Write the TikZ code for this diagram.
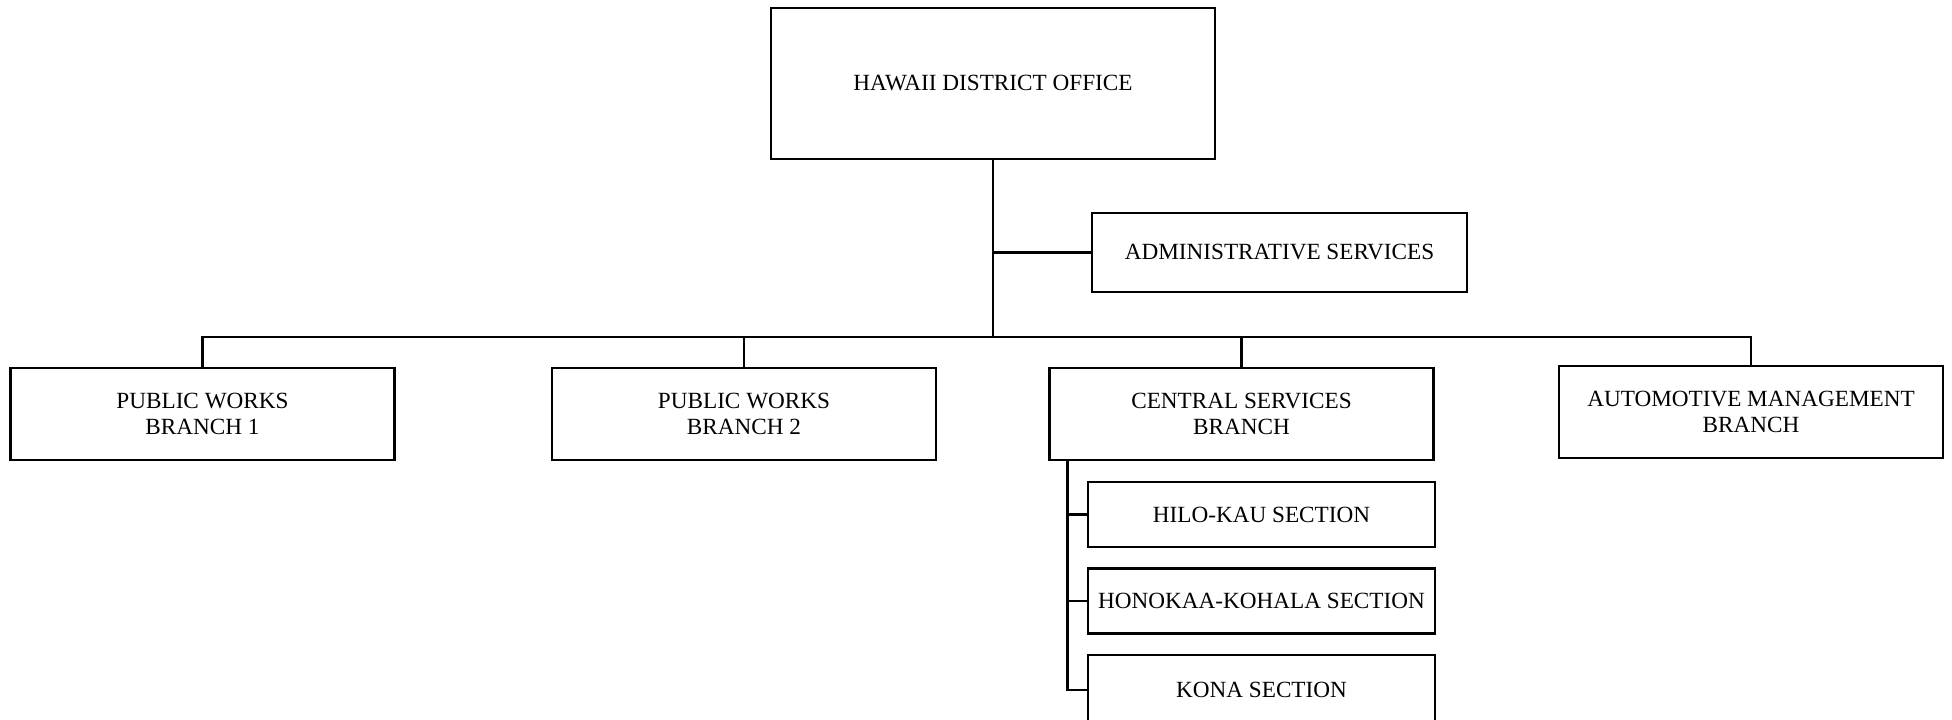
\documentclass[tikz,border=0pt]{standalone}
\usepackage{fontspec}
\setmainfont{Liberation Serif}

\begin{document}
\begin{tikzpicture}[
    box/.style={draw, line width=0.6pt, minimum width=3.84cm, minimum height=0.92cm,
                align=center, inner sep=0pt, font=\fontsize{6.6}{7.6}\selectfont},
    sectionbox/.style={box, minimum width=3.47cm, minimum height=0.65cm},
    link/.style={line width=0.6pt},
  ]
  \useasboundingbox (0,0) rectangle (19.52,-7.20);
  \node[box, minimum width=4.44cm, minimum height=1.51cm] (office) at (9.93,-0.835) {HAWAII DISTRICT OFFICE};
  \node[box, minimum width=3.75cm, minimum height=0.79cm] (admin) at (12.795,-2.525) {ADMINISTRATIVE SERVICES};
  \node[box] (pw1) at (2.025,-4.14) {PUBLIC WORKS\\ BRANCH 1};
  \node[box] (pw2) at (7.44,-4.14) {PUBLIC WORKS\\ BRANCH 2};
  \node[box] (central) at (12.415,-4.14) {CENTRAL SERVICES\\ BRANCH};
  \node[box] (auto) at (17.51,-4.12) {AUTOMOTIVE MANAGEMENT\\ BRANCH};
  \node[sectionbox] (hilo) at (12.615,-5.145) {HILO-KAU SECTION};
  \node[sectionbox] (honokaa) at (12.615,-6.01) {HONOKAA-KOHALA SECTION};
  \node[sectionbox, minimum height=0.70cm] (kona) at (12.615,-6.90) {KONA SECTION};
  \coordinate (bus) at (9.93,-3.37);
  \coordinate (csleft) at ([xshift=0.19cm]central.south west);
  \draw[link] (office) -- (bus);
  \draw[link] (admin) -- (admin -| bus);
  \draw[link] (bus) -| (pw1);
  \draw[link] (bus) -| (pw2);
  \draw[link] (bus) -| (central);
  \draw[link] (bus) -| (auto);
  \draw[link] (csleft) |- (hilo);
  \draw[link] (csleft) |- (honokaa);
  \draw[link] (csleft) |- (kona);
\end{tikzpicture}
\end{document}
